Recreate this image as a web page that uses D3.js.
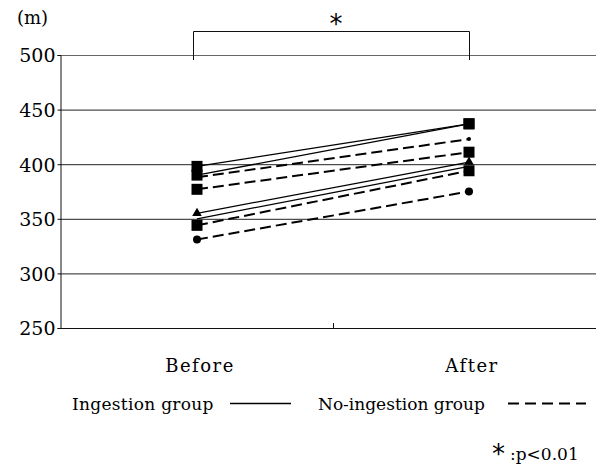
<!DOCTYPE html>
<html>
<head>
<meta charset="utf-8">
<script src="https://cdn.jsdelivr.net/npm/d3@7"></script>
<style>
  body { margin: 0; background: #fff; }
  svg { display: block; }
</style>
</head>
<body>
<div id="chart"></div>
<script>
// values (m)
const phases = ["Before", "After"];
const yTicks = [250, 300, 350, 400, 450, 500];
const ingestion = [[398, 437], [390, 437], [355, 402], [350, 398]];
const ingestionMarks = ["square", "square", "triangle", "none"];
const noIngestion = [[388, 423], [377, 411], [344, 394], [331, 375]];
const noIngestionMarks = ["dot", "square", "square", "circle"];

const W = 596, H = 470;
const SERIF = "DejaVu Serif";
const SANS = "DejaVu Sans";

const svg = d3.select("#chart").append("svg").attr("width", W).attr("height", H);

function label(xp, yp, txt, size, anchor, spacing, fam) {
    return svg.append("text")
        .attr("x", xp).attr("y", yp)
        .attr("text-anchor", anchor || "start")
        .attr("font-family", fam || SERIF)
        .attr("font-size", size)
        .attr("letter-spacing", spacing || 0)
        .attr("fill", "black")
        .text(txt);
}

const x = d3.scaleBand().domain(phases).range([61, 605]);
const y = d3.scaleLinear().domain([250, 500]).range([328, 55]);
const cx = d => x(d) + x.bandwidth() / 2;

// gridlines
svg.selectAll("line.grid")
    .data(yTicks.slice(1))
    .enter().append("line")
    .attr("x1", 60).attr("x2", W)
    .attr("y1", d => y(d) + 0.5).attr("y2", d => y(d) + 0.5)
    .attr("stroke", d => d === 500 ? "#666" : "#222")
    .attr("stroke-width", 1);

// y axis
svg.append("g")
    .attr("transform", "translate(60.5,0)")
    .call(d3.axisLeft(y).tickValues(yTicks).tickSize(3).tickFormat(d3.format("d")))
    .attr("font-family", SERIF)
    .attr("font-size", 19)
    .call(g => g.select(".domain").attr("stroke", "#111"))
    .call(g => g.selectAll(".tick line").attr("stroke", "#111"))
    .call(g => g.selectAll(".tick text")
        .attr("x", -5).attr("dy", "0.36em")
        .attr("fill", "black"));

// x axis line with the middle boundary tick
svg.append("line")
    .attr("x1", 60).attr("x2", W)
    .attr("y1", y(250) + 0.5).attr("y2", y(250) + 0.5)
    .attr("stroke", "#111");
svg.append("line")
    .attr("x1", x("After") + 0.5).attr("x2", x("After") + 0.5)
    .attr("y1", y(250) - 5).attr("y2", y(250))
    .attr("stroke", "#111");

phases.forEach(p => label(cx(p) + 3, 372, p, 18, "middle", 1.5));

// unit
label(17, 24, "(m)", 18, "start", 0);

// significance bracket
svg.append("path")
    .attr("d", `M${cx("Before") - 3.5},60V31.5H${cx("After") + 0.5}V60`)
    .attr("fill", "none").attr("stroke", "#111");
label((cx("Before") + cx("After")) / 2 + 3, 33, "*", 26, "middle", 0, SANS);

const line = d3.line().x((d, i) => cx(phases[i])).y(d => y(d));

function drawGroup(data, marks, dashed) {
    svg.selectAll(null)
        .data(data)
        .enter().append("path")
        .attr("d", d => line(d))
        .attr("fill", "none")
        .attr("stroke", "#000")
        .attr("stroke-width", dashed ? 2 : 1.3)
        .attr("stroke-dasharray", dashed ? "11,5" : null);

    data.forEach((vals, k) => {
        vals.forEach((v, i) => {
            const px = cx(phases[i]), py = y(v);
            const m = marks[k];
            if (m === "square") {
                svg.append("rect").attr("x", px - 5.5).attr("y", py - 5.5)
                    .attr("width", 11).attr("height", 11).attr("fill", "#000");
            } else if (m === "triangle") {
                svg.append("path").attr("d", d3.symbol(d3.symbolTriangle, 40)())
                    .attr("transform", `translate(${px},${py})`).attr("fill", "#000");
            } else if (m === "circle") {
                svg.append("circle").attr("cx", px).attr("cy", py).attr("r", 4).attr("fill", "#000");
            } else if (m === "dot") {
                svg.append("circle").attr("cx", px).attr("cy", py).attr("r", 2).attr("fill", "#000");
            }
        });
    });
}

drawGroup(noIngestion, noIngestionMarks, true);
drawGroup(ingestion, ingestionMarks, false);

// legend
const ly = 403.5;
label(72, ly + 6, "Ingestion group", 17, "start", 0.3);
svg.append("line").attr("x1", 230).attr("x2", 291).attr("y1", ly).attr("y2", ly)
    .attr("stroke", "#000").attr("stroke-width", 1.5);
label(318, ly + 6, "No-ingestion group", 17, "start", 0);
svg.append("line").attr("x1", 508).attr("x2", 586).attr("y1", ly).attr("y2", ly)
    .attr("stroke", "#000").attr("stroke-width", 2).attr("stroke-dasharray", "11,6");

// footnote
label(505, 463, "*", 26, "end", 0, SANS);
label(510, 460, ":p<0.01", 17, "start", 0);
</script>
</body>
</html>
